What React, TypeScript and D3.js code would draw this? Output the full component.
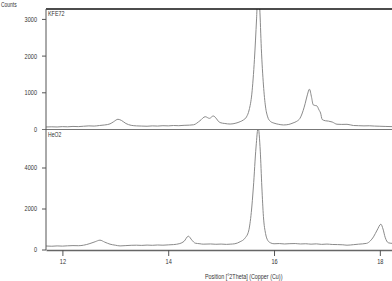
import React, { useEffect, useRef } from "react";
import * as d3 from "d3";

// KFE72 scan (upper panel)
const kfePos = [
  11.69, 11.8, 11.9, 12.0, 12.1, 12.2, 12.3, 12.4, 12.5, 12.6, 12.7, 12.8, 12.9, 12.97, 13.05, 13.12, 13.2, 13.3,
  13.4, 13.5, 13.6, 13.7, 13.8, 13.9, 14.0, 14.1, 14.2, 14.3, 14.4, 14.48, 14.6, 14.7, 14.78, 14.85, 14.98,
  15.07, 15.17, 15.28, 15.36, 15.42, 15.48, 15.53, 15.58, 15.63, 15.67, 15.7, 15.73, 15.76, 15.8, 15.84, 15.88,
  15.93, 16.0, 16.08, 16.18, 16.28, 16.36, 16.43, 16.49, 16.55, 16.59, 16.63, 16.67, 16.71, 16.74, 16.78, 16.81,
  16.85, 16.88, 16.91, 16.97, 17.03, 17.1, 17.19, 17.28, 17.38, 17.5, 17.6, 17.7, 17.8, 17.9, 18.0, 18.1, 18.23,
];
const kfeCounts = [
  55, 60, 55, 65, 60, 70, 65, 75, 85, 80, 95, 110, 140, 200, 265, 230, 150, 100,
  85, 80, 75, 85, 80, 90, 85, 95, 90, 100, 105, 115, 225, 335, 290, 355, 175,
  150, 135, 160, 200, 245, 330, 520, 950, 1900, 3000, 3900, 3300, 2200, 1200, 600, 330,
  210, 160, 130, 110, 125, 165, 210, 290, 500, 700, 930, 1085, 860, 660, 640, 630,
  520, 435, 260, 225, 215, 190, 130, 125, 128, 95, 90, 85, 88, 80, 75, 70, 65,
];

// HeO2 scan (lower panel)
const heoPos = [
  11.69, 11.8, 11.9, 12.0, 12.1, 12.2, 12.3, 12.4, 12.52, 12.62, 12.71, 12.8, 12.9, 13.0, 13.09, 13.2, 13.3,
  13.4, 13.5, 13.6, 13.7, 13.8, 13.9, 14.0, 14.1, 14.22, 14.3, 14.38, 14.45, 14.51, 14.6, 14.66, 14.8, 14.9,
  15.0, 15.1, 15.17, 15.26, 15.36, 15.45, 15.52, 15.57, 15.61, 15.66, 15.7, 15.74, 15.77, 15.8, 15.84, 15.88,
  15.93, 16.0, 16.1, 16.2, 16.3, 16.4, 16.5, 16.6, 16.7, 16.8, 16.9, 17.0, 17.1, 17.2, 17.3, 17.38, 17.5,
  17.6, 17.75, 17.82, 17.88, 17.95, 18.02, 18.06, 18.1, 18.16, 18.23,
];
const heoCounts = [
  170, 160, 175, 165, 180, 190, 185, 210, 290, 380, 455, 360, 260, 210, 175, 190, 205,
  210, 200, 215, 205, 220, 210, 225, 240, 290, 400, 650, 450, 310, 280, 260, 270, 255,
  265, 250, 260, 280, 380, 550, 900, 1800, 3050, 5000, 5950, 4800, 3050, 1600, 780, 450,
  330, 280, 290, 270, 285, 290, 270, 280, 260, 275, 250, 265, 245, 240, 230, 210, 235,
  260, 300, 420, 615, 950, 1235, 1000, 600, 330, 300,
];

const xTicks = [12, 14, 16, 18];
const kfeTicks = [0, 1000, 2000, 3000];
const heoTicks = [0, 2000, 4000];

const font = "'Liberation Sans', Arial, sans-serif";

// squeeze text to look like the narrow font of the original
const narrow = (sel: any, perChar: number) =>
  sel.each(function (this: SVGTextElement) {
    const n = (this.textContent || "").length;
    d3.select(this).attr("textLength", n * perChar).attr("lengthAdjust", "spacingAndGlyphs");
  });

const App = () => {
  const svgRef = useRef<SVGSVGElement>(null);

  useEffect(() => {
    const width = 392;
    const height = 281;
    const left = 46;

    const svg = d3.select(svgRef.current)
      .attr("width", width)
      .attr("height", height)
      .style("position", "absolute")
      .style("top", "0px")
      .style("left", "0px")
      .style("background", "#fff");
    svg.selectAll("*").remove();

    const x = d3.scaleLinear().domain([11.69, 18.23]).range([left, width]);

    const panels = [
      { name: "KFE72", pos: kfePos, counts: kfeCounts, ticks: kfeTicks, top: 9, bottom: 129, max: 3270 },
      { name: "HeO2", pos: heoPos, counts: heoCounts, ticks: heoTicks, top: 130, bottom: 249.5, max: 5830 },
    ];

    panels.forEach((p, i) => {
      const y = d3.scaleLinear().domain([0, p.max]).range([p.bottom, p.top]);
      const g = svg.append("g");

      g.append("clipPath").attr("id", `clip${i}`)
        .append("rect")
        .attr("x", left).attr("y", p.top)
        .attr("width", width - left).attr("height", p.bottom - p.top);

      const line = d3.line<number>()
        .x((d, j) => x(p.pos[j]))
        .y((d) => y(d))
        .curve(d3.curveMonotoneX);

      g.append("path")
        .datum(p.counts)
        .attr("clip-path", `url(#clip${i})`)
        .attr("d", line)
        .attr("fill", "none")
        .attr("stroke", "#8a8a8a")
        .attr("stroke-width", 1);

      const yAxis = d3.axisLeft(y).tickValues(p.ticks).tickSize(4).tickSizeOuter(0).tickPadding(5)
        .tickFormat(d3.format("d"));
      g.append("g")
        .attr("transform", `translate(${left},0)`)
        .call(yAxis)
        .call((a) => a.select(".domain").remove())
        .call((a) => a.selectAll("line").attr("stroke", "#555"))
        .call((a) => narrow(a.selectAll("text").attr("font-family", font).attr("font-size", 7.5).attr("fill", "#333"), 3.1));

      narrow(g.append("text")
        .attr("x", left + 2)
        .attr("y", p.top + 7)
        .attr("font-family", font)
        .attr("font-size", 7.5)
        .attr("fill", "#333")
        .text(p.name), 3.3);
    });

    // frame lines
    svg.append("line").attr("x1", left).attr("x2", width).attr("y1", 9).attr("y2", 9)
      .attr("stroke", "#111").attr("stroke-width", 1.5);
    svg.append("line").attr("x1", left - 4).attr("x2", width).attr("y1", 129.5).attr("y2", 129.5)
      .attr("stroke", "#777").attr("stroke-width", 1.2);
    svg.append("line").attr("x1", left).attr("x2", left).attr("y1", 9).attr("y2", 250)
      .attr("stroke", "#555").attr("stroke-width", 1);

    const xAxis = d3.axisBottom(x).tickValues(xTicks).tickSize(6).tickSizeOuter(0).tickPadding(3)
      .tickFormat(d3.format("d"));
    svg.append("g")
      .attr("transform", "translate(0,250)")
      .call(xAxis)
      .call((a) => a.select(".domain").attr("stroke", "#666").attr("stroke-width", 1.6))
      .call((a) => a.selectAll("line").attr("stroke", "#555"))
      .call((a) => narrow(a.selectAll("text").attr("font-family", font).attr("font-size", 7.5).attr("fill", "#333"), 3.1));

    narrow(svg.append("text")
      .attr("x", 205)
      .attr("y", 279)
      .attr("font-family", font)
      .attr("font-size", 7.5)
      .attr("fill", "#333")
      .text("Position [°2Theta] (Copper (Cu))"), 2.42);

    narrow(svg.append("text")
      .attr("x", 1)
      .attr("y", 7)
      .attr("font-family", font)
      .attr("font-size", 6.5)
      .attr("fill", "#333")
      .text("Counts"), 2.6);
  }, []);

  return (
    <div>
      <svg ref={svgRef} />
    </div>
  );
};

export default App;
